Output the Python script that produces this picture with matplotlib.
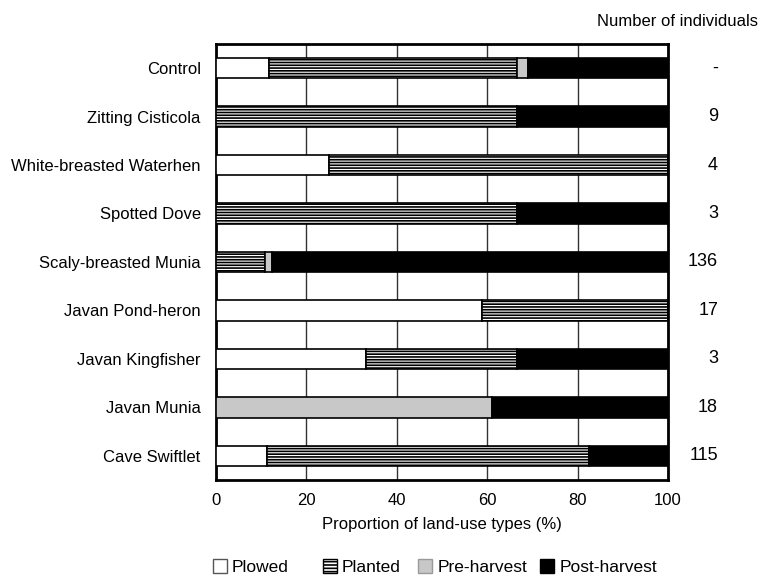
import matplotlib.pyplot as plt
import numpy as np
from matplotlib.patches import Patch
import matplotlib.transforms as mtransforms

plt.rcParams['font.family'] = ['Liberation Sans', 'DejaVu Sans']
plt.rcParams['hatch.linewidth'] = 1.2

species = ['Control', 'Zitting Cisticola', 'White-breasted Waterhen', 'Spotted Dove',
           'Scaly-breasted Munia', 'Javan Pond-heron', 'Javan Kingfisher',
           'Javan Munia', 'Cave Swiftlet']
plowed = [11.7, 0, 25.0, 0, 0, 58.8, 33.3, 0, 11.3]
planted = [55.0, 66.7, 75.0, 66.7, 10.8, 41.2, 33.3, 0, 71.3]
pre_harvest = [2.3, 0, 0, 0, 1.5, 0, 0, 61.1, 0]
post_harvest = [31.0, 33.3, 0, 33.3, 87.7, 0, 33.4, 38.9, 17.4]
n_individuals = ['-', '9', '4', '3', '136', '17', '3', '18', '115']

fig = plt.figure(figsize=(7.62, 5.77), dpi=100)
ax = fig.add_axes([0.2835, 0.168, 0.593, 0.756])

y = np.arange(len(species))[::-1]
h = 0.42
left = np.zeros(len(species))
styles = [
    (plowed, dict(color='white', label='Plowed')),
    (planted, dict(color='white', hatch='------', label='Planted')),
    (pre_harvest, dict(color='#c8c8c8', label='Pre-harvest')),
    (post_harvest, dict(color='black', label='Post-harvest')),
]
for vals, kw in styles:
    vals = np.array(vals)
    ax.barh(y, vals, left=left, height=h, edgecolor='black', linewidth=1.2, zorder=3, **kw)
    left += vals

ax.set_xlim(0, 100)
ax.set_ylim(-0.5, len(species) - 0.5)
ax.set_xticks([0, 20, 40, 60, 80, 100])
ax.set_yticks(y)
ax.set_yticklabels(species, fontsize=12)
ax.tick_params(axis='x', labelsize=12, length=0, pad=9)
ax.tick_params(axis='y', length=0, pad=11)
ax.grid(axis='x', color='#333333', linewidth=1)
for s in ax.spines.values():
    s.set_linewidth(2)
ax.set_xlabel('Proportion of land-use types (%)', fontsize=12, labelpad=7)

trans = mtransforms.blended_transform_factory(ax.transAxes, ax.transData)
for yi, n in zip(y, n_individuals):
    ax.text(1.111, yi, n, transform=trans, ha='right', va='center', fontsize=13)
fig.text(0.995, 0.962, 'Number of individuals', ha='right', va='center', fontsize=12)

# legend entries placed one by one (uneven spacing in the original)
handles = [Patch(facecolor='white', edgecolor='#555555', label='Plowed'),
           Patch(facecolor='white', edgecolor='black', hatch='-----', label='Planted'),
           Patch(facecolor='#c8c8c8', edgecolor='#999999', label='Pre-harvest'),
           Patch(facecolor='black', edgecolor='black', label='Post-harvest')]
leg_x = [0.2795, 0.4239, 0.5486, 0.7087]
for hd, lx in zip(handles, leg_x):
    fig.legend(handles=[hd], loc='center left', bbox_to_anchor=(lx, 0.017),
               frameon=False, fontsize=12.5, handlelength=0.8, handleheight=0.8,
               handletextpad=0.3, borderpad=0, borderaxespad=0)

fig.savefig('out.png', dpi=100)
